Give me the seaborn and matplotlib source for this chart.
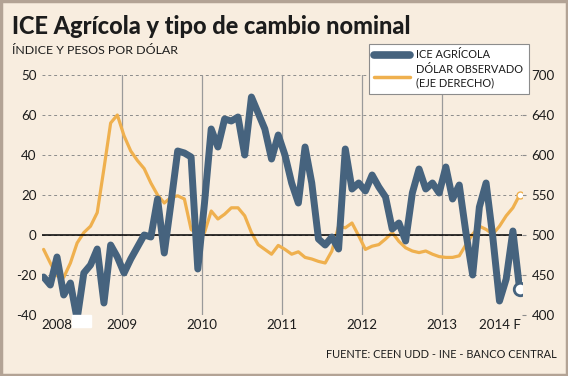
import numpy as np
import pandas as pd
import matplotlib
matplotlib.use("Agg")
import matplotlib.pyplot as plt
from matplotlib.lines import Line2D
from matplotlib.patches import Rectangle
import seaborn as sns

# Data (monthly, Jan 2008 - Dec 2013)
ice_agricola = [-21, -25, -11, -30, -24, -42, -19, -15, -7, -34, -5, -11,
                -19, -12, -6, 0, -1, 18, -9, 16, 42, 41, 39, -17,
                16, 53, 44, 58, 57, 59, 40, 69, 61, 53, 38, 50,
                40, 26, 16, 44, 26, -2, -5, -1, -7, 43, 23, 26,
                22, 30, 24, 19, 3, 6, -3, 21, 33, 23, 26, 21,
                34, 18, 25, 1, -20, 14, 26, -1, -33, -22, 2, -27]
dolar = [482, 465, 449, 447, 465, 490, 503, 511, 528, 583, 640, 650,
         624, 605, 593, 583, 565, 550, 540, 547, 549, 545, 507, 501,
         503, 530, 520, 526, 534, 534, 524, 503, 488, 482, 476, 487,
         482, 476, 479, 472, 470, 467, 465, 480, 511, 509, 515, 499,
         482, 486, 488, 495, 503, 492, 484, 480, 478, 480, 476, 473,
         472, 472, 474, 488, 501, 511, 507, 501, 511, 524, 534, 550]

left_ticks = [-40, -20, 0, 20, 40, 60, 80]
left_labels = ["-40", "-20", "0", "20", "40", "60", "50"]
right_ticks = [400, 450, 500, 550, 600, 650, 700]
right_labels = ["400", "450", "500", "550", "600", "640", "700"]
year_ticks = [2008.19, 2009, 2010, 2011, 2012, 2013, 2013.72]
year_labels = ["2008", "2009", "2010", "2011", "2012", "2013", "2014 F"]

BG = "#f8eddf"
BLUE = "#46637e"
ORANGE = "#efb04e"
INK = "#1c1c1c"

sns.set_style("white")
plt.rcParams["font.family"] = ["Lato", "DejaVu Sans"]
plt.rcParams["text.color"] = INK
plt.rcParams["xtick.color"] = INK
plt.rcParams["ytick.color"] = INK

n = len(ice_agricola)
fecha = np.linspace(2008.02, 2013.97, n)
df = pd.DataFrame({"fecha": fecha, "ice": ice_agricola, "dolar": dolar})

fig = plt.figure(figsize=(5.68, 3.76), dpi=100, facecolor=BG)
renderer = fig.canvas.get_renderer()


def size_for(s, width_px, **kw):
    t = fig.text(0, 0, s, fontsize=10, **kw)
    w = t.get_window_extent(renderer).width
    t.remove()
    return 10 * width_px / w


ax = fig.add_axes([42 / 568, 1 - 315 / 376, 480 / 568, 240 / 376])
ax2 = ax.twinx()
ax2.set_zorder(0)
ax.set_zorder(1)
ax.patch.set_visible(False)
ax2.patch.set_facecolor(BG)

for a in (ax, ax2):
    for s in a.spines.values():
        s.set_visible(False)

# grid
for t in left_ticks:
    ax2.axhline(400 + (t + 40) * 2.5, color="#8c8c8c", lw=0.7, ls=(0, (3, 3)), zorder=0)
ax.axhline(0, color="black", lw=1.1, zorder=1)
for yr in range(2009, 2014):
    ax2.axvline(yr, color="#9a9a9a", lw=0.9, zorder=0)

sns.lineplot(data=df, x="fecha", y="dolar", ax=ax2, color=ORANGE, lw=2.3)
sns.lineplot(data=df, x="fecha", y="ice", ax=ax, color=BLUE, lw=5.0,
             solid_capstyle="round", solid_joinstyle="round", zorder=3)

ax.plot(fecha[-1], ice_agricola[-1], "o", ms=9, mfc="white", mec=BLUE, mew=2, zorder=5)
ax2.plot(fecha[-1], dolar[-1], "o", ms=5, mfc="white", mec=ORANGE, mew=1, zorder=5)

ax.set_xlim(2008, 2014)
ax.set_ylim(-40, 80)
ax2.set_ylim(400, 700)
ax.set_yticks(left_ticks)
ax.set_yticklabels(left_labels)
ax2.set_yticks(right_ticks)
ax2.set_yticklabels(right_labels)
ax.set_xticks(year_ticks)
ax.set_xticklabels(year_labels)
tick_size = size_for("2010", 31)
ax.tick_params(axis="x", length=0, pad=3, labelsize=tick_size)
ax.tick_params(axis="y", length=0, pad=4, labelsize=tick_size)
ax2.tick_params(axis="y", length=3, pad=4, labelsize=tick_size, color="#8c8c8c")
ax.set_xlabel("")
ax.set_ylabel("")
ax2.set_ylabel("")

# white patch under the axis at the bottom left
fig.patches.append(Rectangle((72 / 568, 1 - 327 / 376), 19 / 568, 12 / 376,
                             transform=fig.transFigure, color="white", zorder=10))

title = "ICE Agrícola y tipo de cambio nominal"
fig.text(12 / 568, 1 - 34 / 376, title,
         fontsize=size_for(title, 398, fontweight="black"), fontweight="black",
         ha="left", va="baseline")
sub = "ÍNDICE Y PESOS POR DÓLAR"
fig.text(12 / 568, 1 - 50 / 376, sub, fontsize=size_for(sub, 165),
         ha="left", va="center")
src = "FUENTE: CEEN UDD - INE - BANCO CENTRAL"
fig.text(557 / 568, 1 - 354 / 376, src, fontsize=size_for(src, 230),
         ha="right", va="center")

leg_size = size_for("DÓLAR OBSERVADO", 106)
handles = [Line2D([], [], color=BLUE, lw=5.5, solid_capstyle="round"),
           Line2D([], [], color=ORANGE, lw=2.5)]
leg = fig.legend(handles, ["ICE AGRÍCOLA", "DÓLAR OBSERVADO\n(EJE DERECHO)"],
                 loc="upper left", bbox_to_anchor=(369 / 568, 1 - 44 / 376),
                 frameon=True, fancybox=False, fontsize=leg_size, handlelength=3.2,
                 borderpad=0.5, labelspacing=0.35, handletextpad=0.6,
                 borderaxespad=0)
leg.get_frame().set_edgecolor("#8c8c8c")
leg.get_frame().set_linewidth(0.8)
leg.get_frame().set_facecolor("white")
leg.get_frame().set_alpha(1)

fig.patches.append(Rectangle((0.002, 0.003), 0.996, 0.994, transform=fig.transFigure,
                             fill=False, edgecolor="#b3a395", lw=2.5, zorder=20))

fig.savefig("out.png", dpi=100, facecolor=BG)
